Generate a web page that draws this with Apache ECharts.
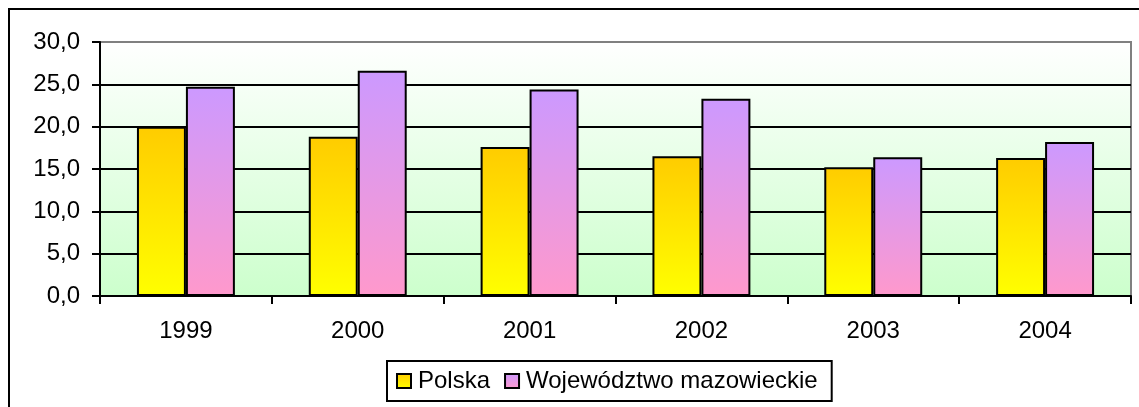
<!DOCTYPE html>
<html>
<head>
<meta charset="utf-8">
<script src="https://cdn.jsdelivr.net/npm/echarts@6/dist/echarts.min.js"></script>
<style>
  html, body { margin: 0; padding: 0; background: #fff; }
  #chart { width: 1139px; height: 407px; }
</style>
</head>
<body>
<div id="chart"></div>
<script>
const years = ["1999", "2000", "2001", "2002", "2003", "2004"];
const polska = [20.0, 18.8, 17.6, 16.5, 15.2, 16.3];
const mazowieckie = [24.7, 26.6, 24.4, 23.3, 16.4, 18.2];
const seriesNames = ["Polska", "Województwo mazowieckie"];

const font = "Liberation Sans, Arial, sans-serif";

const grad = (top, bottom) =>
  new echarts.graphic.LinearGradient(0, 0, 0, 1, [
    { offset: 0, color: top },
    { offset: 1, color: bottom },
  ]);

const chart = echarts.init(document.getElementById("chart"));
const option = {
  animation: false,
  backgroundColor: "#ffffff",
  textStyle: { fontFamily: font },
  graphic: [
    {
      type: "rect",
      shape: { x: 9, y: 9, width: 1140, height: 420 },
      style: { fill: "none", stroke: "#000", lineWidth: 2 },
      silent: true,
      z: 100,
    },
  ],
  grid: {
    left: 100,
    right: 8,
    top: 42,
    bottom: 111,
    show: true,
    backgroundColor: grad("#ffffff", "#ccffcc"),
    borderColor: "#808080",
    borderWidth: 2,
  },
  legend: {
    data: seriesNames,
    icon: "rect",
    left: 387,
    top: 361,
    padding: [8, 14, 8, 9],
    itemWidth: 14,
    itemHeight: 14,
    itemGap: 14,
    borderColor: "#000",
    borderWidth: 2,
    itemStyle: { borderColor: "#000", borderWidth: 2 },
    textStyle: { fontSize: 24, color: "#000", fontFamily: font, padding: [0, 0, 0, 2] },
  },
  xAxis: {
    type: "category",
    data: years,
    axisLine: { lineStyle: { color: "#000", width: 2 } },
    axisTick: { show: true, length: 8, lineStyle: { color: "#000", width: 2 } },
    axisLabel: { fontSize: 24, color: "#000", margin: 23, fontFamily: font },
    splitLine: { show: false },
  },
  yAxis: {
    type: "value",
    min: 0,
    max: 30,
    interval: 5,
    axisLine: { show: true, lineStyle: { color: "#000", width: 2 } },
    axisTick: { show: true, length: 8, lineStyle: { color: "#000", width: 2 } },
    axisLabel: {
      fontSize: 24,
      color: "#000",
      margin: 20,
      fontFamily: font,
      formatter: (v) => v.toFixed(1).replace(".", ","),
    },
    splitLine: {
      show: true,
      lineStyle: {
        color: ["#000", "#000", "#000", "#000", "#000", "#000", "#808080"],
        width: 2,
      },
    },
  },
  series: [
    {
      name: seriesNames[0],
      type: "bar",
      data: polska,
      barGap: "0%",
      barCategoryGap: "43%",
      itemStyle: {
        color: grad("#ffcc00", "#ffff00"),
        borderColor: "#000",
        borderWidth: 2,
      },
    },
    {
      name: seriesNames[1],
      type: "bar",
      data: mazowieckie,
      barGap: "0%",
      barCategoryGap: "43%",
      itemStyle: {
        color: grad("#cc99ff", "#ff99cc"),
        borderColor: "#000",
        borderWidth: 2,
      },
    },
  ],
};
chart.setOption(option);
</script>
</body>
</html>
